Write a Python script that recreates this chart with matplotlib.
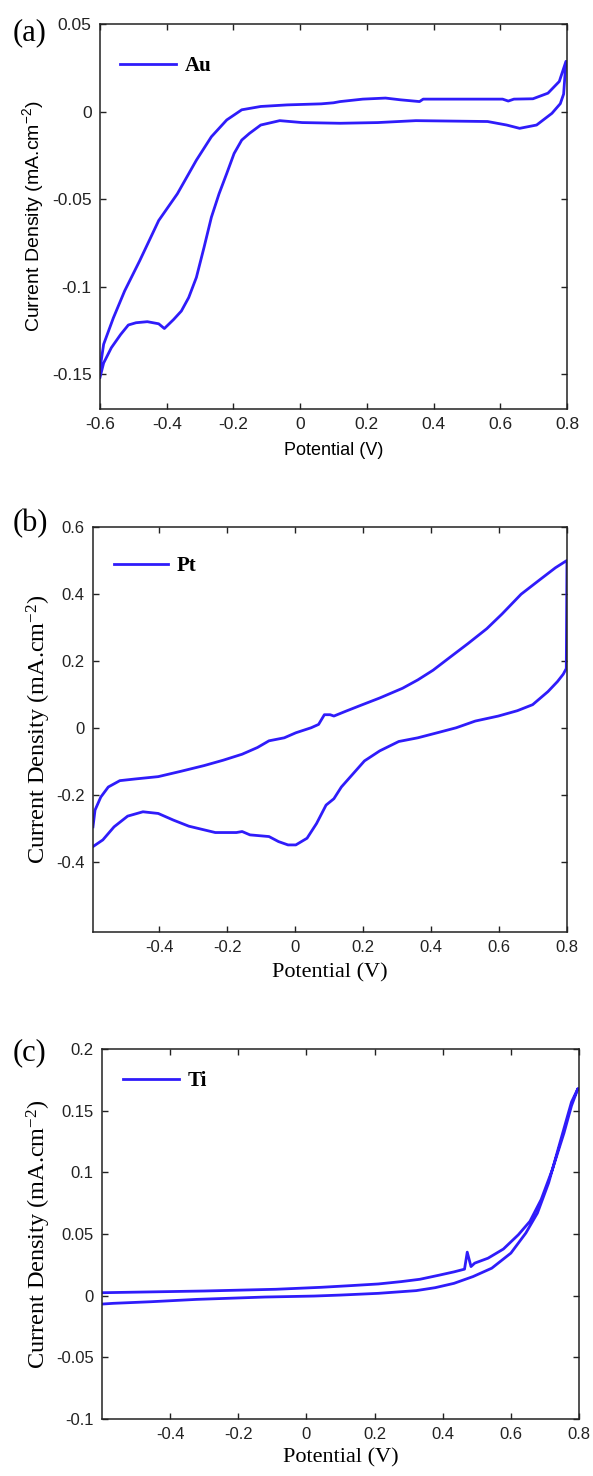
import numpy as np
import matplotlib
matplotlib.use('Agg')
import matplotlib.pyplot as plt
from matplotlib import font_manager

# 循环伏安曲线数据 (电位 V, 电流密度 mA/cm2)
au_fwd_v = [-0.600, -0.589, -0.560, -0.526, -0.481, -0.424, -0.368, -0.311, -0.266, -0.220,
            -0.175, -0.118, -0.039, 0.063, 0.100, 0.120, 0.188, 0.256, 0.301, 0.358,
            0.369, 0.500, 0.607, 0.624, 0.641, 0.698, 0.743, 0.777, 0.797]
au_fwd_i = [-0.147, -0.133, -0.118, -0.1025, -0.0853, -0.0623, -0.047, -0.0278, -0.0144, -0.0048,
            0.001, 0.0029, 0.0038, 0.0044, 0.0050, 0.0057, 0.0071, 0.0077, 0.0067, 0.0057,
            0.0071, 0.0071, 0.0071, 0.0060, 0.0071, 0.0073, 0.0105, 0.0172, 0.0287]
au_rev_v = [0.797, 0.790, 0.780, 0.755, 0.709, 0.658, 0.619, 0.562, 0.347, 0.233,
            0.120, 0.006, -0.061, -0.118, -0.152, -0.175, -0.198, -0.220, -0.243, -0.266,
            -0.288, -0.311, -0.334, -0.356, -0.379, -0.407, -0.424, -0.458, -0.492, -0.515,
            -0.538, -0.566, -0.589, -0.600]
au_rev_i = [0.0287, 0.010, 0.0045, -0.001, -0.0077, -0.0096, -0.0077, -0.0057, -0.0052, -0.0063,
            -0.0067, -0.0063, -0.0052, -0.0077, -0.0125, -0.0163, -0.024, -0.0354, -0.047, -0.0604,
            -0.0776, -0.0948, -0.1063, -0.114, -0.1188, -0.124, -0.1213, -0.1201, -0.1207, -0.122,
            -0.1274, -0.135, -0.1437, -0.152]

pt_fwd_v = [-0.595, -0.589, -0.572, -0.550, -0.516, -0.471, -0.403, -0.336, -0.268, -0.212,
            -0.156, -0.111, -0.077, -0.032, 0.002, 0.047, 0.069, 0.086, 0.103, 0.114,
            0.148, 0.193, 0.249, 0.316, 0.361, 0.406, 0.451, 0.508, 0.564, 0.609,
            0.665, 0.721, 0.766, 0.800]
pt_fwd_i = [-0.296, -0.246, -0.207, -0.177, -0.158, -0.153, -0.146, -0.130, -0.113, -0.097,
            -0.079, -0.059, -0.039, -0.030, -0.015, 0.000, 0.010, 0.039, 0.039, 0.035,
            0.049, 0.067, 0.089, 0.118, 0.143, 0.172, 0.207, 0.251, 0.296, 0.340,
            0.399, 0.443, 0.478, 0.500]
pt_rev_v = [0.800, 0.798, 0.789, 0.772, 0.744, 0.699, 0.654, 0.598, 0.530, 0.474,
            0.418, 0.361, 0.305, 0.249, 0.204, 0.170, 0.136, 0.114, 0.091, 0.063,
            0.035, 0.002, -0.021, -0.049, -0.077, -0.133, -0.156, -0.173, -0.235, -0.268,
            -0.313, -0.358, -0.403, -0.448, -0.493, -0.533, -0.566, -0.595]
pt_rev_i = [0.500, 0.177, 0.160, 0.138, 0.108, 0.069, 0.051, 0.035, 0.020, 0.000,
            -0.015, -0.030, -0.041, -0.069, -0.099, -0.138, -0.177, -0.212, -0.231, -0.286,
            -0.330, -0.350, -0.350, -0.340, -0.325, -0.320, -0.310, -0.313, -0.313, -0.305,
            -0.294, -0.276, -0.256, -0.251, -0.264, -0.296, -0.335, -0.355]

ti_fwd_v = [-0.600, -0.300, -0.089, 0.044, 0.133, 0.211, 0.278, 0.333, 0.389, 0.433,
            0.464, 0.472, 0.483, 0.494, 0.533, 0.578, 0.622, 0.656, 0.689, 0.722,
            0.756, 0.778, 0.797]
ti_fwd_i = [0.0024, 0.0038, 0.0052, 0.0068, 0.0082, 0.0095, 0.0114, 0.0133, 0.0166, 0.0193,
            0.0215, 0.0353, 0.0236, 0.0264, 0.0304, 0.0378, 0.0494, 0.0603, 0.078, 0.1024,
            0.132, 0.154, 0.168]
ti_rev_v = [0.797, 0.778, 0.744, 0.711, 0.678, 0.644, 0.600, 0.544, 0.489, 0.433,
            0.378, 0.322, 0.211, 0.100, 0.022, -0.122, -0.322, -0.456, -0.567, -0.600]
ti_rev_i = [0.168, 0.157, 0.124, 0.0916, 0.067, 0.0508, 0.0345, 0.0223, 0.0155, 0.010,
            0.0065, 0.0041, 0.0019, 0.0005, -0.0003, -0.0011, -0.003, -0.0049, -0.0062, -0.0068]

x_ticks_a = [-0.6, -0.4, -0.2, 0, 0.2, 0.4, 0.6, 0.8]
x_ticks_bc = [-0.4, -0.2, 0, 0.2, 0.4, 0.6, 0.8]
y_ticks_a = [-0.15, -0.1, -0.05, 0, 0.05]
y_ticks_b = [-0.4, -0.2, 0, 0.2, 0.4, 0.6]
y_ticks_c = [-0.1, -0.05, 0, 0.05, 0.1, 0.15, 0.2]

names = {f.name for f in font_manager.fontManager.ttflist}
SANS = 'Liberation Sans Narrow' if 'Liberation Sans Narrow' in names else 'Liberation Sans'
SERIF = 'Liberation Serif'

plt.rcParams['mathtext.default'] = 'regular'
line_color = '#2f1cfa'


def fmt(v):
    s = f'{v:g}'
    return '0' if s in ('0', '-0') else s


def setup_axes(ax, xlim, ylim, xt, yt, tick_size):
    ax.set_xlim(*xlim)
    ax.set_ylim(*ylim)
    ax.set_xticks(xt)
    ax.set_yticks(yt)
    ax.set_xticklabels([fmt(v) for v in xt], fontfamily=SANS, fontsize=tick_size)
    ax.set_yticklabels([fmt(v) for v in yt], fontfamily=SANS, fontsize=tick_size)
    ax.tick_params(direction='in', top=True, right=True, length=4.5, width=1.0,
                   colors='#222222')
    ax.tick_params(axis='y', pad=6)
    ax.tick_params(axis='x', pad=6)
    for sp in ax.spines.values():
        sp.set_linewidth(1.1)
        sp.set_color('#222222')


fig = plt.figure(figsize=(5.93, 14.76), dpi=100)

# (a) Au
ax = fig.add_axes([0.1686, 0.7229, 0.7875, 0.2608])
ax.plot(au_fwd_v + au_rev_v, au_fwd_i + au_rev_i, color=line_color, lw=2.0, label='Au')
setup_axes(ax, (-0.6, 0.8), (-0.17, 0.05), x_ticks_a, y_ticks_a, 12.5)
ax.set_xlabel('Potential (V)', fontfamily=SANS, fontsize=13, labelpad=7)
ax.set_ylabel('Current Density (mA.cm$^{-2}$)', fontfamily=SANS, fontsize=14, labelpad=4)
ax.legend(loc='center left', bbox_to_anchor=(0.043, 0.891), frameon=False, borderpad=0,
          borderaxespad=0, handlelength=2.7, handletextpad=0.4,
          prop={'family': SERIF, 'weight': 'bold', 'size': 15})
fig.text(13 / 593, 1 - 33 / 1476, '(a)', family=SERIF, fontsize=22, ha='left', va='center')

# (b) Pt
ax = fig.add_axes([0.1568, 0.3686, 0.7993, 0.2744])
ax.plot(pt_fwd_v + pt_rev_v, pt_fwd_i + pt_rev_i, color=line_color, lw=2.0, label='Pt')
setup_axes(ax, (-0.595, 0.8), (-0.61, 0.6), x_ticks_bc, y_ticks_b, 12)
ax.set_xlabel('Potential (V)', fontfamily=SERIF, fontsize=16, labelpad=6)
ax.set_ylabel('Current Density (mA.cm$^{-2}$)', fontfamily=SERIF, fontsize=17.5, labelpad=2)
ax.legend(loc='center left', bbox_to_anchor=(0.044, 0.904), frameon=False, borderpad=0,
          borderaxespad=0, handlelength=2.6, handletextpad=0.4,
          prop={'family': SERIF, 'weight': 'bold', 'size': 15})
fig.text(13 / 593, 1 - 524 / 1476, '(b)', family=SERIF, fontsize=22, ha='left', va='center')

# (c) Ti
ax = fig.add_axes([0.1720, 0.0386, 0.8044, 0.2507])
ax.plot(ti_fwd_v + ti_rev_v, ti_fwd_i + ti_rev_i, color=line_color, lw=2.0, label='Ti')
setup_axes(ax, (-0.6, 0.8), (-0.1, 0.2), x_ticks_bc, y_ticks_c, 12)
ax.set_xlabel('Potential (V)', fontfamily=SERIF, fontsize=16, labelpad=4)
ax.set_ylabel('Current Density (mA.cm$^{-2}$)', fontfamily=SERIF, fontsize=17.5, labelpad=2)
ax.legend(loc='center left', bbox_to_anchor=(0.044, 0.913), frameon=False, borderpad=0,
          borderaxespad=0, handlelength=2.7, handletextpad=0.4,
          prop={'family': SERIF, 'weight': 'bold', 'size': 15})
fig.text(13 / 593, 1 - 1053 / 1476, '(c)', family=SERIF, fontsize=22, ha='left', va='center')

fig.savefig('out.png', dpi=100)
